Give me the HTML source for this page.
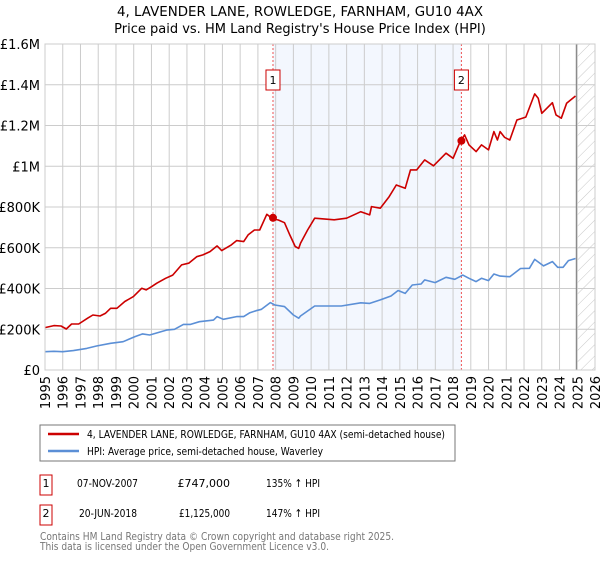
<!DOCTYPE html>
<html><head><meta charset="utf-8"><style>
body{margin:0;background:#fff;font-family:"DejaVu Sans","Liberation Sans",sans-serif;}
svg text{font-family:"DejaVu Sans","Liberation Sans",sans-serif;}
</style></head><body>
<svg id="c" width="600" height="560" xmlns="http://www.w3.org/2000/svg">
<defs><pattern id="hatch" width="8" height="8" patternUnits="userSpaceOnUse" patternTransform="rotate(45)"><line x1="0" y1="0" x2="0" y2="8" stroke="#c8c8c8" stroke-width="1"/></pattern></defs>
<text x="300" y="16" text-anchor="middle" font-size="13" textLength="366" lengthAdjust="spacingAndGlyphs" fill="#000">4, LAVENDER LANE, ROWLEDGE, FARNHAM, GU10 4AX</text>
<text x="300" y="33" text-anchor="middle" font-size="13" fill="#000">Price paid vs. HM Land Registry's House Price Index (HPI)</text>
<g id="plot"></g>
<rect x="40" y="425" width="415" height="36" fill="#fff" stroke="#777"/>
<line x1="48" y1="434" x2="79" y2="434" stroke="#cc0000" stroke-width="2.5"/>
<text x="87" y="438" font-size="11" textLength="358" lengthAdjust="spacingAndGlyphs">4, LAVENDER LANE, ROWLEDGE, FARNHAM, GU10 4AX (semi-detached house)</text>
<line x1="48" y1="451" x2="79" y2="451" stroke="#5b8fd6" stroke-width="2.5"/>
<text x="87" y="455" font-size="11" textLength="236" lengthAdjust="spacingAndGlyphs">HPI: Average price, semi-detached house, Waverley</text>
<g font-size="11">
<rect x="40" y="475" width="12" height="20" fill="#fff" stroke="#cc0000"/>
<text x="46" y="487" text-anchor="middle">1</text>
<text x="77" y="487" textLength="61" lengthAdjust="spacingAndGlyphs">07-NOV-2007</text>
<text x="230" y="487" text-anchor="end">£747,000</text>
<text x="266" y="487" textLength="54" lengthAdjust="spacingAndGlyphs">135% ↑ HPI</text>
<rect x="40" y="505" width="12" height="20" fill="#fff" stroke="#cc0000"/>
<text x="46" y="517" text-anchor="middle">2</text>
<text x="79" y="517" textLength="58" lengthAdjust="spacingAndGlyphs">20-JUN-2018</text>
<text x="230" y="517" text-anchor="end" textLength="51" lengthAdjust="spacingAndGlyphs">£1,125,000</text>
<text x="266" y="517" textLength="54" lengthAdjust="spacingAndGlyphs">147% ↑ HPI</text>
</g>
<text x="40" y="540" font-size="11" fill="#777" textLength="354" lengthAdjust="spacingAndGlyphs">Contains HM Land Registry data © Crown copyright and database right 2025.</text>
<text x="40" y="550" font-size="11" fill="#777" textLength="289" lengthAdjust="spacingAndGlyphs">This data is licensed under the Open Government Licence v3.0.</text>
</svg>
<script>
const yTicks=[0,200,400,600,800,1000,1200,1400,1600];
const yTickLabels=["£0","£200K","£400K","£600K","£800K","£1M","£1.2M","£1.4M","£1.6M"];
const xYears=[1995,1996,1997,1998,1999,2000,2001,2002,2003,2004,2005,2006,2007,2008,2009,2010,2011,2012,2013,2014,2015,2016,2017,2018,2019,2020,2021,2022,2023,2024,2025,2026];
const saleDates=[2007.85,2018.47];
const salePrices=[747,1125];
const saleLabels=["1","2"];
const redYears=[1995,1995.5,1995.9,1996.2,1996.5,1996.9,1997.4,1997.7,1998.1,1998.4,1998.7,1999.05,1999.5,1999.98,2000.45,2000.7,2001,2001.3,2001.8,2002.2,2002.7,2003.1,2003.55,2003.9,2004.3,2004.7,2004.96,2005.5,2005.8,2006.2,2006.45,2006.8,2007.1,2007.5,2007.85,2008.15,2008.5,2008.8,2009.1,2009.3,2009.4,2009.8,2010.2,2011.3,2012,2012.8,2013.3,2013.4,2013.9,2014.4,2014.8,2015.3,2015.6,2015.95,2016.4,2016.9,2017.6,2018,2018.4,2018.65,2018.9,2019.3,2019.6,2020,2020.3,2020.5,2020.65,2020.9,2021.2,2021.6,2022.1,2022.6,2022.8,2023,2023.6,2023.8,2024.1,2024.4,2024.9];
const redValues=[208,218,216,201,226,226,254,270,265,278,303,303,336,360,401,393,409,426,450,466,516,524,556,565,581,609,586,614,635,630,663,687,687,764,741,736,723,663,606,597,622,687,745,737,745,777,761,802,794,851,908,892,982,982,1031,1002,1064,1039,1121,1154,1105,1072,1105,1080,1170,1129,1170,1142,1129,1227,1241,1355,1334,1260,1312,1252,1236,1309,1345];
const hpiYears=[1995,1995.5,1996,1996.6,1997.35,1997.9,1998.7,1999.4,2000.07,2000.5,2000.9,2001.85,2002.3,2002.8,2003.2,2003.7,2004.5,2004.7,2005.05,2005.8,2006.2,2006.55,2006.9,2007.2,2007.7,2007.95,2008.5,2009,2009.3,2009.4,2010.2,2011.7,2012.8,2013.3,2013.9,2014.5,2014.9,2015.3,2015.7,2016.2,2016.4,2016.99,2017.6,2018.1,2018.55,2018.9,2019.3,2019.6,2020,2020.3,2020.65,2021.2,2021.8,2022.3,2022.6,2023.1,2023.6,2023.9,2024.2,2024.5,2024.9];
const hpiValues=[90,92,90,95,106,118,131,139,164,177,172,196,200,224,224,237,245,262,249,262,262,281,291,298,331,319,311,270,254,265,314,314,330,327,344,363,390,376,417,422,442,429,455,445,466,450,434,450,439,471,461,458,498,499,543,511,532,504,504,537,547];

const L=45,R=595,T=44,B=370;
const xS=y=>L+(y-1995)/(2026-1995)*(R-L);
const yS=v=>B-v/1600*(B-T);
const NS="http://www.w3.org/2000/svg";
const g=document.getElementById('plot');
function mk(t,a){const e=document.createElementNS(NS,t);for(const k in a)e.setAttribute(k,a[k]);g.appendChild(e);return e;}
let e;
e=mk('rect',{x:xS(saleDates[0]),y:T,width:xS(saleDates[1])-xS(saleDates[0]),height:B-T,fill:'#eef3fd',opacity:0.7});


const hx=xS(2024.95);
e=mk('rect',{x:hx,y:T,width:R-hx,height:B-T,fill:'url(#hatch)'});


xYears.forEach(y=>{
 e=mk('line',{x1:xS(y),x2:xS(y),y1:T,y2:B,stroke:'#cccccc','stroke-width':1});
 
 
 e=mk('text',{x:0,y:0,'font-size':13,'text-anchor':'end',transform:`translate(${xS(y)+5},${B+6}) rotate(-90)`});
 e.textContent=y;
 
 
});
yTicks.forEach((v,i)=>{
 e=mk('line',{x1:L,x2:R,y1:yS(v),y2:yS(v),stroke:'#cccccc','stroke-width':1});
 
 
 e=mk('text',{x:40,y:yS(v)+5,'font-size':13,'text-anchor':'end'});
 e.textContent=yTickLabels[i];
 
 
});
e=mk('line',{x1:hx,x2:hx,y1:T,y2:B,stroke:'#888','stroke-width':1.2});


saleDates.forEach((d,i)=>{
 e=mk('line',{x1:xS(d),x2:xS(d),y1:T,y2:B,stroke:'#ee5555','stroke-width':1,'stroke-dasharray':'2,2'});
 
 
});
function path(xs,vs,col,name){
 const d=xs.map((x,i)=>(i?'L':'M')+xS(x).toFixed(1)+','+yS(vs[i]).toFixed(1)).join('');
 e=mk('path',{d:d,fill:'none',stroke:col,'stroke-width':1.6,'stroke-linejoin':'round'});
 
 
}
path(hpiYears,hpiValues,'#5b8fd6','hpi-line');
path(redYears,redValues,'#cc0000','property-line');
saleDates.forEach((d,i)=>{
 e=mk('circle',{cx:xS(d),cy:yS(salePrices[i]),r:4,fill:'#cc0000'});
 
 
 e=mk('rect',{x:xS(d)-7,y:70,width:14,height:20,fill:'#fff',stroke:'#cc0000'});
 
 
 e=mk('text',{x:xS(d),y:84,'font-size':11,'text-anchor':'middle'});
 e.textContent=saleLabels[i];
 
 
});
e=mk('rect',{x:L,y:T,width:R-L,height:B-T,fill:'none',stroke:'#cccccc'});


</script>
</body></html>
